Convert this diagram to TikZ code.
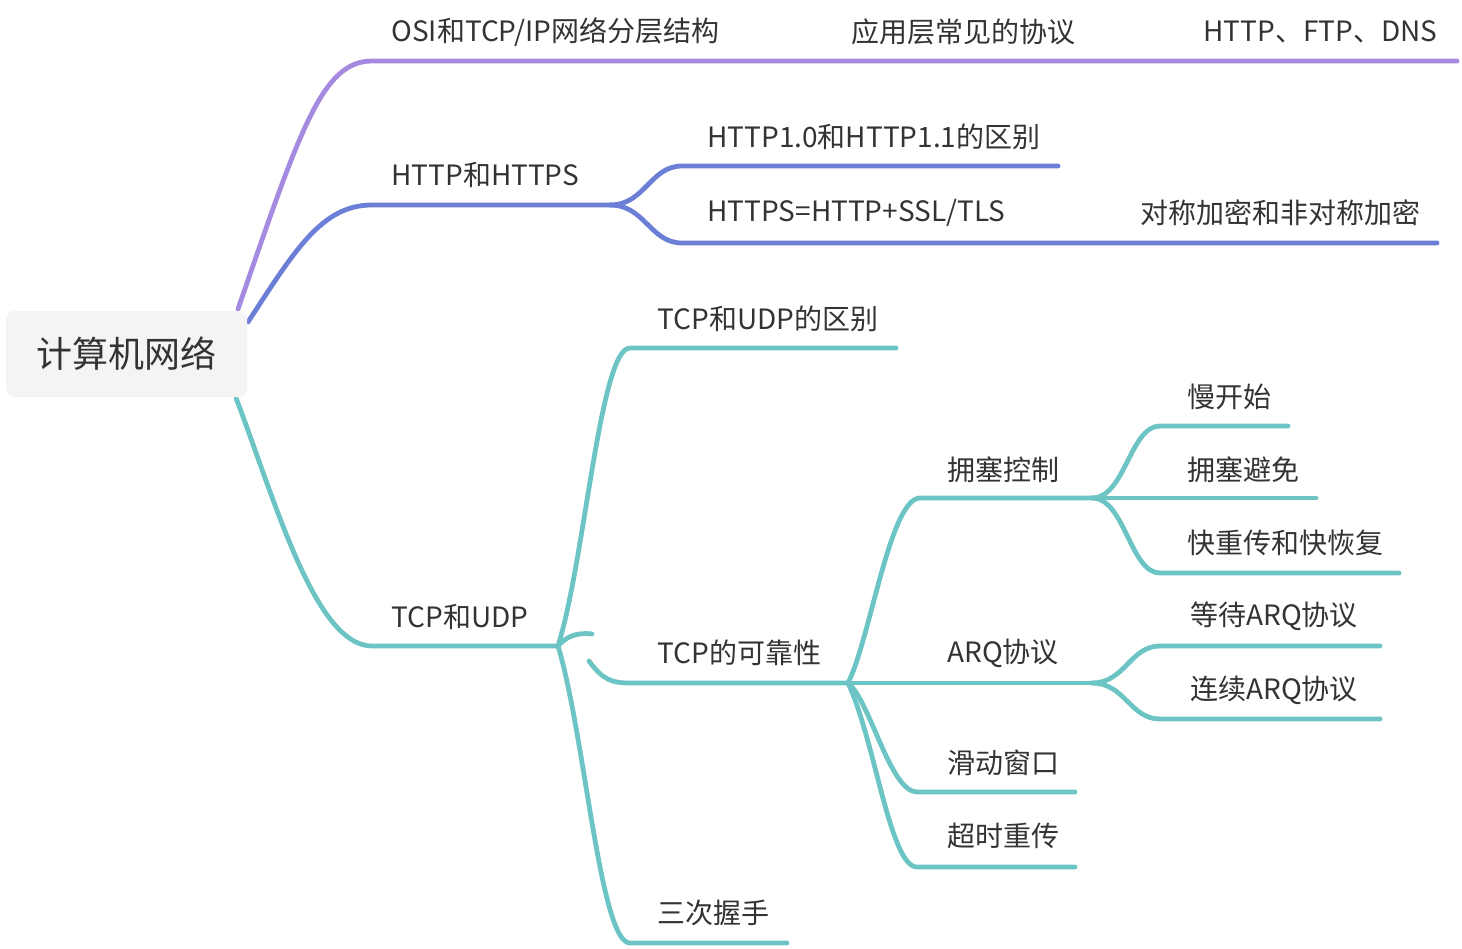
\documentclass[tikz,border=0pt]{standalone}
\usepackage{fontspec}
\setmainfont{Noto Sans CJK SC}
\definecolor{cpurple}{HTML}{A48BE0}
\definecolor{cblue}{HTML}{6B7FD7}
\definecolor{cteal}{HTML}{6CC5C4}
\definecolor{ctext}{HTML}{333333}
\definecolor{croot}{HTML}{F4F4F4}
\tikzset{
  lbl/.style={anchor=west, inner sep=0pt, text=ctext, font=\fontsize{14}{16}\selectfont},
  rootbox/.style={fill=croot, rounded corners=4pt, minimum width=120.5pt, minimum height=43pt, inner sep=0pt, text=ctext, font=\fontsize{18}{22}\selectfont},
  br/.style={line width=2.4pt, line cap=round},
  pu/.style={br, draw=cpurple},
  bl/.style={br, draw=cblue},
  te/.style={br, draw=cteal},
}
\begin{document}
\begin{tikzpicture}[x=0.5pt, y=-0.5pt]
\useasboundingbox (0,0) rectangle (1462,948);

% ---------- coordinates ----------
% purple
\coordinate (pA) at (238,309);
\coordinate (pB) at (372,61);
\coordinate (pE) at (1457,61);
% blue
\coordinate (bA) at (248,322);
\coordinate (bB) at (372,205);
\coordinate (bJ) at (610,205);
\coordinate (bT) at (682,166);
\coordinate (bTE) at (1058,166);
\coordinate (bD) at (682,243);
\coordinate (bDE) at (1437,243);
% teal
\coordinate (tA) at (236,398);
\coordinate (tB) at (372,646);
\coordinate (tJ) at (558,646);
\coordinate (u1) at (630,348);
\coordinate (u1E) at (896,348);
\coordinate (hk) at (592,634);
\coordinate (u2s) at (589,661);
\coordinate (u2) at (630,683);
\coordinate (kJ) at (848,683);
\coordinate (u3) at (630,943);
\coordinate (u3E) at (787,943);
\coordinate (k1) at (920,498);
\coordinate (cJ) at (1092,498);
\coordinate (aJ) at (1092,683);
\coordinate (k3) at (917,792);
\coordinate (k3E) at (1075,792);
\coordinate (k4) at (917,867);
\coordinate (k4E) at (1075,867);
\coordinate (c1) at (1160,426);
\coordinate (c1E) at (1288,426);
\coordinate (c2E) at (1316,498);
\coordinate (c3) at (1160,573);
\coordinate (c3E) at (1399,573);
\coordinate (a1) at (1160,646);
\coordinate (a1E) at (1380,646);
\coordinate (a2) at (1160,719);
\coordinate (a2E) at (1380,719);

% ---------- connectors ----------
\draw[pu] (pA) .. controls (300,130) and (322,61) .. (pB) -- (pE);

\draw[bl] (bA) .. controls (295,250) and (322,205) .. (bB) -- (bJ);
\draw[bl] (bJ) .. controls (645,205) and (650,166) .. (bT) -- (bTE);
\draw[bl] (bJ) .. controls (645,205) and (650,243) .. (bD) -- (bDE);

\draw[te] (tA) .. controls (275,500) and (315,646) .. (tB) -- (tJ);
\draw[te] (tJ) .. controls (585,560) and (600,348) .. (u1) -- (u1E);
\draw[te] (tJ) .. controls (566,637) and (576,632) .. (hk);
\draw[te] (u2s) .. controls (603,680) and (612,683) .. (u2) -- (kJ);
\draw[te] (tJ) .. controls (585,735) and (600,943) .. (u3) -- (u3E);

\draw[te] (kJ) .. controls (870,640) and (890,498) .. (k1) -- (cJ);
\draw[te] (kJ) -- (aJ);
\draw[te] (kJ) .. controls (870,700) and (890,792) .. (k3) -- (k3E);
\draw[te] (kJ) .. controls (875,740) and (890,867) .. (k4) -- (k4E);

\draw[te] (cJ) .. controls (1125,498) and (1130,426) .. (c1) -- (c1E);
\draw[te] (cJ) -- (c2E);
\draw[te] (cJ) .. controls (1125,498) and (1130,573) .. (c3) -- (c3E);

\draw[te] (aJ) .. controls (1125,683) and (1130,646) .. (a1) -- (a1E);
\draw[te] (aJ) .. controls (1125,683) and (1130,719) .. (a2) -- (a2E);

% ---------- nodes ----------
\node[rootbox] (root) at (126.5,354) {计算机网络};

\node[lbl] (osi) at (391,32) {OSI和TCP/IP网络分层结构};
\node[lbl] (app) at (851,32) {应用层常见的协议};
\node[lbl] (proto) at (1203,32) {HTTP、FTP、DNS};

\node[lbl] (https) at (391,175) {HTTP和HTTPS};
\node[lbl] (diff) at (707,137) {HTTP1.0和HTTP1.1的区别};
\node[lbl] (ssl) at (707,213) {HTTPS=HTTP+SSL/TLS};
\node[lbl] (enc) at (1140,213) {对称加密和非对称加密};

\node[lbl] (tcpudp) at (391,617) {TCP和UDP};
\node[lbl] (tudiff) at (657,319) {TCP和UDP的区别};
\node[lbl] (rel) at (657,653) {TCP的可靠性};
\node[lbl] (hand) at (657,913) {三次握手};

\node[lbl] (cong) at (947,470) {拥塞控制};
\node[lbl] (arq) at (947,653) {ARQ协议};
\node[lbl] (slide) at (947,763) {滑动窗口};
\node[lbl] (retx) at (947,836) {超时重传};

\node[lbl] (slow) at (1187,397) {慢开始};
\node[lbl] (avoid) at (1187,470) {拥塞避免};
\node[lbl] (fast) at (1187,543) {快重传和快恢复};

\node[lbl] (wait) at (1190,616) {等待ARQ协议};
\node[lbl] (cont) at (1190,690) {连续ARQ协议};
\end{tikzpicture}
\end{document}
